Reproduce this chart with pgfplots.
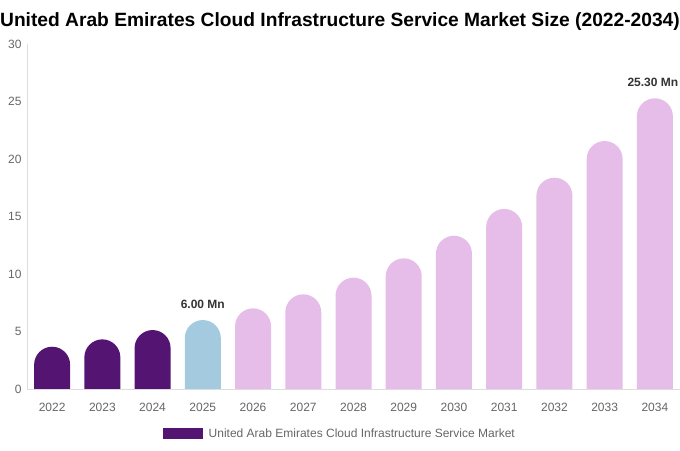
\documentclass[border=0pt]{standalone}
\usepackage{pgfplots}
\pgfplotsset{compat=1.18}
\usepackage{fontspec}
\setmainfont{Liberation Sans}
\definecolor{darkp}{HTML}{541472}
\definecolor{lblue}{HTML}{A3CADF}
\definecolor{lpink}{HTML}{E6BCE8}
\definecolor{axgray}{HTML}{DDDDDD}
\definecolor{tkgray}{HTML}{666666}
\definecolor{lblgray}{HTML}{333333}
\begin{document}
\begin{tikzpicture}[x=1pt,y=1pt]
\useasboundingbox (0,0) rectangle (680,450);
\node[font=\bfseries\fontsize{19.2}{23}\selectfont, text=black] at (340,428.5) {United Arab Emirates Cloud Infrastructure Service Market Size (2022-2034)};
\begin{axis}[
  at={(27pt,38.02pt)}, anchor=south west,
  scale only axis, width=653pt, height=367.68pt,
  % values are lifted by 2 units; the visible chart starts at 2, so the
  % rounded bottom ends of the bars are hidden under the mask below
  y filter/.expression={y+2},
  xmin=-0.5, xmax=12.5, ymin=0, ymax=32,
  ybar, bar width=36pt, bar shift=0pt,
  axis on top,
  axis lines*=left,
  axis line style={draw=none},
  xtick={0,...,12},
  xticklabels={2022,2023,2024,2025,2026,2027,2028,2029,2030,2031,2032,2033,2034},
  ytick={2,7,12,17,22,27,32},
  yticklabels={0,5,10,15,20,25,30},
  major tick length=0pt,
  tick label style={font=\fontsize{12}{14}\selectfont, text=tkgray},
  /pgf/number format/assume math mode=true,
  xticklabel style={yshift=12pt},
  yticklabel style={xshift=-2pt},
  legend style={at={(0.479,0)}, yshift=-21.5pt, anchor=center, draw=none, fill=none,
    font=\fontsize{12}{14}\selectfont, text=tkgray, legend columns=1,
    /tikz/every even column/.append style={column sep=0pt}},
  legend image code/.code={\fill[#1,draw=none,sharp corners] (0pt,-5.5pt) rectangle (40pt,5.5pt);},
  legend cell align=left,
  nodes near coords style={font=\bfseries\fontsize{12}{14}\selectfont, text=lblgray, anchor=south, yshift=8pt},
]
\addplot[fill=darkp, draw=none, rounded corners=18pt] coordinates {(0,3.68) (1,4.32) (2,5.13)};
\addlegendentry{\hspace{4pt}United Arab Emirates Cloud Infrastructure Service Market}
\addplot[fill=lblue, draw=none, rounded corners=18pt, nodes near coords={6.00 Mn}] coordinates {(3,6.00)};
\addplot[fill=lpink, draw=none, rounded corners=18pt] coordinates {(4,7.02) (5,8.24) (6,9.69) (7,11.37) (8,13.34) (9,15.67) (10,18.39) (11,21.58)};
\addplot[fill=lpink, draw=none, rounded corners=18pt, nodes near coords={25.30 Mn}, nodes near coords style={xshift=-2pt}] coordinates {(12,25.30)};
% mask the part below the visible baseline and draw the axis lines
\fill[white] (axis cs:-0.5,-0.1) rectangle (axis cs:12.5,2);
\draw[axgray, line width=0.8pt] (axis cs:-0.5,2) -- (axis cs:12.5,2);
\draw[axgray, line width=0.8pt] (axis cs:-0.5,2) -- (axis cs:-0.5,32);
\end{axis}
\end{tikzpicture}
\end{document}
